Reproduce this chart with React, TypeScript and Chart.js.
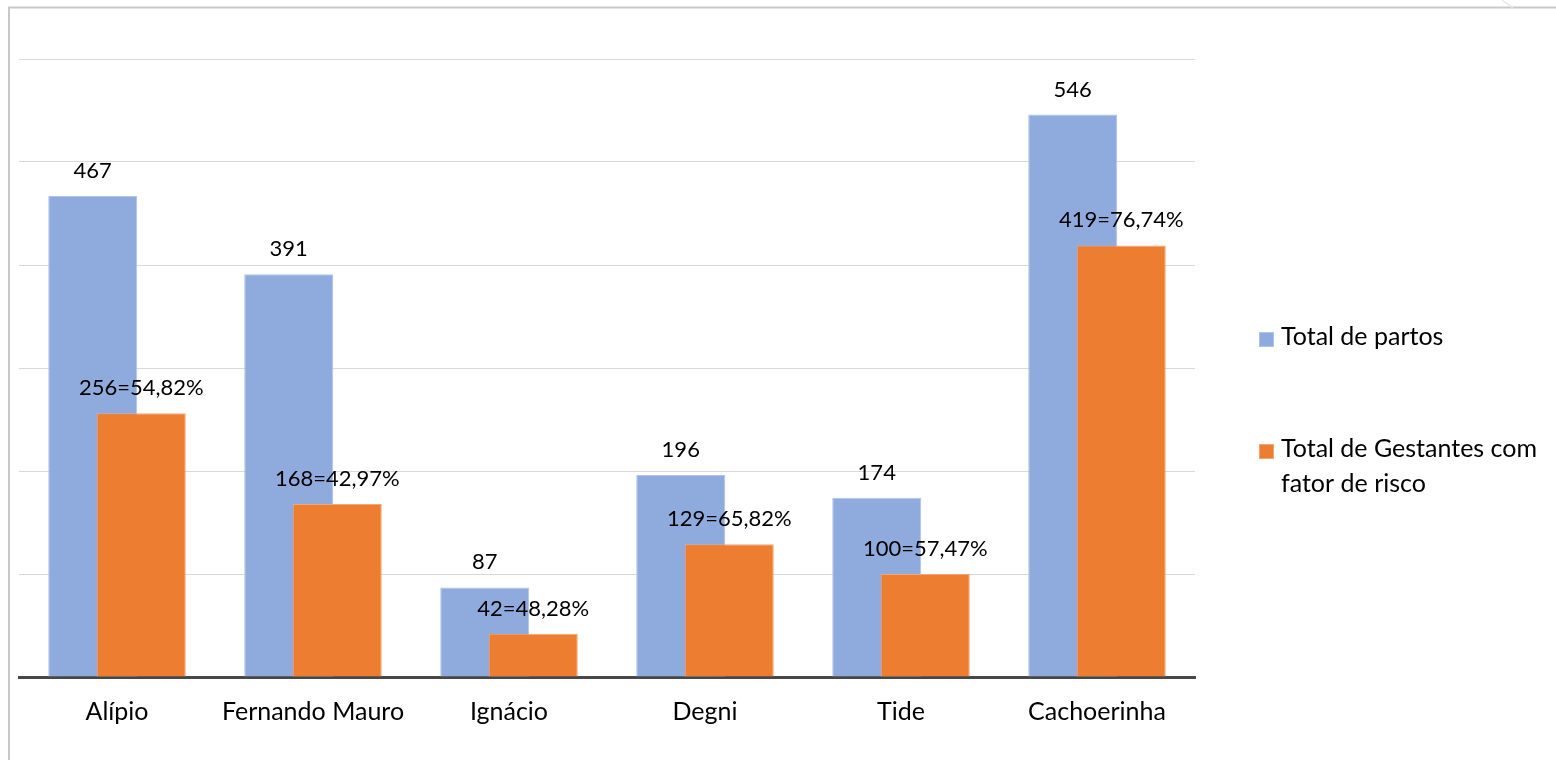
import React, { useEffect, useRef } from "react";
import { Chart, registerables } from "chart.js";

Chart.register(...registerables);

const categories = ["Alípio", "Fernando Mauro", "Ignácio", "Degni", "Tide", "Cachoerinha"];
const totalPartos = [467, 391, 87, 196, 174, 546];
const gestantesRisco = [256, 168, 42, 129, 100, 419];
const riscoPercent = ["54,82%", "42,97%", "48,28%", "65,82%", "57,47%", "76,74%"];
const seriesNames = ["Total de partos", "Total de Gestantes com fator de risco"];
const legendLines = [["Total de partos"], ["Total de Gestantes com", "fator de risco"]];
const yMin = 0;
const yMax = 600;
const yStep = 100;

const FONT_FAMILY = "Lato, 'Open Sans', sans-serif";
const NUM_SIZE = 22;
const TEXT_SIZE = 25;
const BLUE = "#8faadc";
const BLUE_EDGE = "#adc3e8";
const ORANGE = "#ed7d31";
const ORANGE_EDGE = "#f3a573";
const TEXT = "#000000";

const framePlugin = {
  id: "frame",
  beforeDraw(chart: any) {
    const { ctx, width, height } = chart;
    ctx.save();
    ctx.fillStyle = "#ffffff";
    ctx.fillRect(0, 0, width, height);
    ctx.strokeStyle = "#c8c8c8";
    ctx.lineWidth = 2;
    ctx.beginPath();
    ctx.moveTo(9, height);
    ctx.lineTo(9, 7.5);
    ctx.lineTo(width, 7.5);
    ctx.stroke();
    ctx.strokeStyle = "#e6e6e6";
    ctx.lineWidth = 1.5;
    ctx.beginPath();
    ctx.moveTo(1502, 0);
    ctx.lineTo(1513, 8);
    ctx.stroke();
    ctx.restore();
  },
};

// draw the blue series first so the orange bars overlap it
const reorderPlugin = {
  id: "reorder",
  beforeDatasetsDraw(chart: any) {
    const meta = chart.getDatasetMeta(0);
    if (meta && meta.controller) meta.controller.draw();
  },
  beforeDatasetDraw(_chart: any, args: any) {
    if (args.index === 0) return false;
    return true;
  },
};

const labelsPlugin = {
  id: "barLabels",
  afterDatasetsDraw(chart: any) {
    const { ctx } = chart;
    ctx.save();
    ctx.font = `${NUM_SIZE}px ${FONT_FAMILY}`;
    ctx.fillStyle = TEXT;
    ctx.textAlign = "center";
    ctx.textBaseline = "alphabetic";
    const m0 = chart.getDatasetMeta(0);
    m0.data.forEach((bar: any, i: number) => {
      ctx.fillText(String(totalPartos[i]), bar.x, bar.y - 18);
    });
    const m1 = chart.getDatasetMeta(1);
    m1.data.forEach((bar: any, i: number) => {
      ctx.fillText(`${gestantesRisco[i]}=${riscoPercent[i]}`, bar.x, bar.y - 18);
    });
    ctx.restore();
  },
};

const legendPlugin = {
  id: "customLegend",
  afterDraw(chart: any) {
    const { ctx } = chart;
    const colors = [BLUE, ORANGE];
    const edges = [BLUE_EDGE, ORANGE_EDGE];
    const boxX = 1259;
    const textX = 1281;
    const firstBaselines = [345, 457];
    const lineGap = 35;
    ctx.save();
    ctx.font = `${TEXT_SIZE}px ${FONT_FAMILY}`;
    ctx.textAlign = "left";
    ctx.textBaseline = "alphabetic";
    legendLines.forEach((lines, i) => {
      const b = firstBaselines[i];
      ctx.fillStyle = colors[i];
      ctx.fillRect(boxX, b - 13, 15, 15);
      ctx.strokeStyle = edges[i];
      ctx.lineWidth = 1;
      ctx.strokeRect(boxX + 0.5, b - 12.5, 14, 14);
      ctx.fillStyle = TEXT;
      lines.forEach((ln, j) => ctx.fillText(ln, textX, b + j * lineGap));
    });
    ctx.restore();
  },
};

export default function App() {
  const canvasRef = useRef<HTMLCanvasElement | null>(null);

  useEffect(() => {
    if (!canvasRef.current) return;
    const chart = new Chart(canvasRef.current, {
      type: "bar",
      data: {
        labels: categories,
        datasets: [
          {
            label: seriesNames[0],
            data: totalPartos,
            backgroundColor: BLUE,
            borderColor: BLUE_EDGE,
            borderWidth: 1,
            categoryPercentage: 0.495,
            barPercentage: 1.835,
          },
          {
            label: seriesNames[1],
            data: gestantesRisco,
            backgroundColor: ORANGE,
            borderColor: ORANGE_EDGE,
            borderWidth: 1,
            categoryPercentage: 0.495,
            barPercentage: 1.835,
          },
        ],
      },
      options: {
        animation: false,
        responsive: false,
        maintainAspectRatio: false,
        layout: { padding: { left: 19, right: 361, top: 59, bottom: 0 } },
        plugins: {
          legend: { display: false },
          tooltip: { enabled: false },
          title: { display: false },
        },
        scales: {
          x: {
            z: 1,
            grid: { display: false, drawTicks: false },
            border: { display: true, color: "#474747", width: 3 },
            ticks: {
              color: TEXT,
              font: { family: FONT_FAMILY, size: TEXT_SIZE },
              padding: 20,
              maxRotation: 0,
              autoSkip: false,
            },
            afterFit: (axis: any) => {
              axis.height = 83;
            },
          },
          y: {
            min: yMin,
            max: yMax,
            ticks: { display: false, stepSize: yStep },
            grid: { color: "#d9d9d9", lineWidth: 1, drawTicks: false },
            border: { display: false },
            afterFit: (axis: any) => {
              axis.width = 0;
            },
          },
        },
      },
      plugins: [framePlugin, reorderPlugin, labelsPlugin, legendPlugin],
    });
    return () => chart.destroy();
  }, []);

  return (
    <div style={{ position: "absolute", left: 0, top: 0, width: 1556, height: 760 }}>
      <canvas ref={canvasRef} width={1556} height={760} style={{ display: "block" }} />
    </div>
  );
}
